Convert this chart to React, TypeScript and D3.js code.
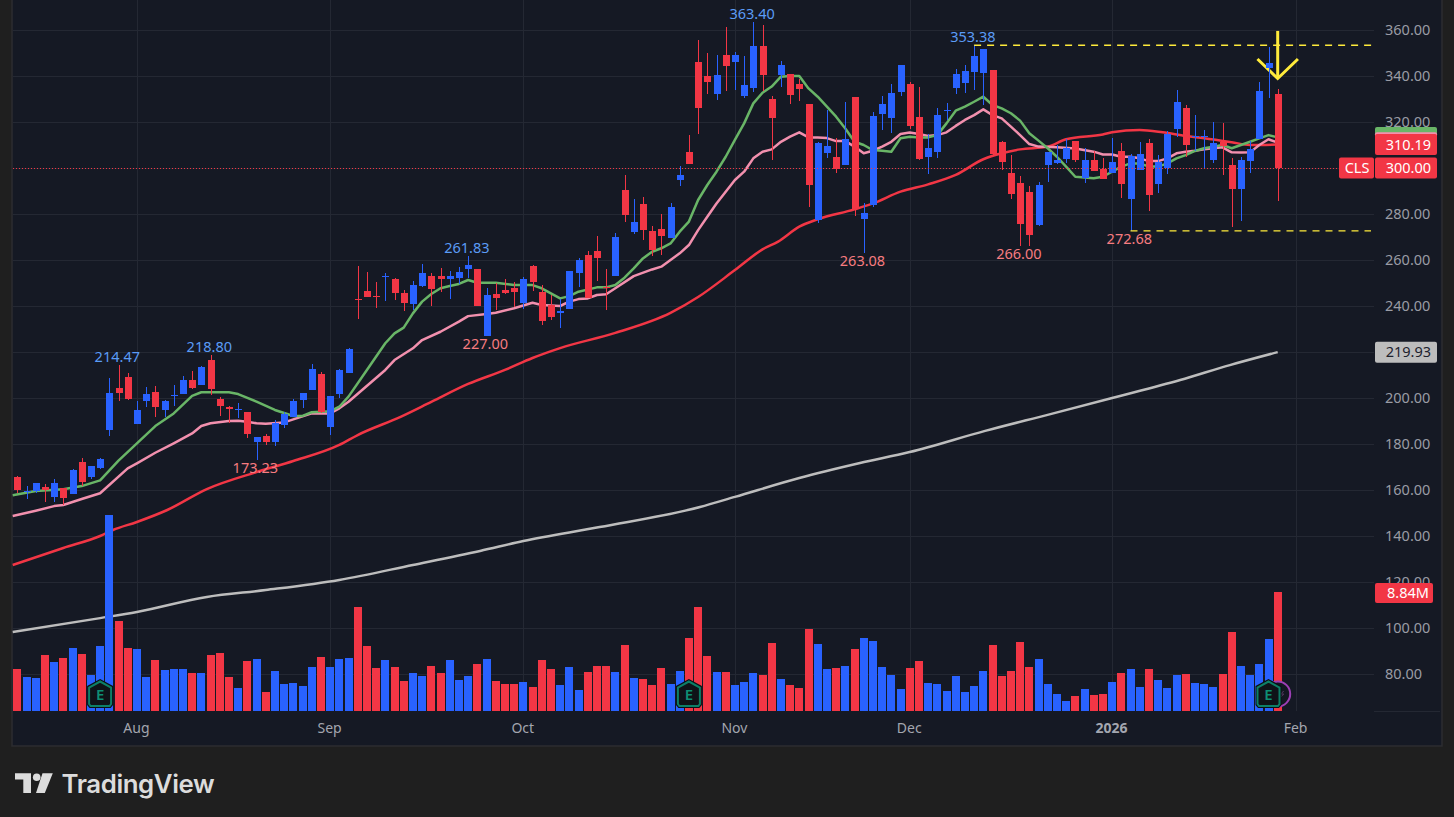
import React, { useRef, useEffect } from "react";
import * as d3 from "d3";

const opens = [165.7,159.3,159.6,161.3,157.1,160.9,158.4,172.2,165.7,169.7,186.2,204.4,209.1,188.9,198.7,202.6,194.8,200.9,201.7,207.8,205.7,216.5,199.6,196.1,194.9,193.9,180.9,183.5,180.9,188.3,191.7,199.1,203.5,210.4,187.4,201.7,210.9,
  243.0,246.5,244.2,252.8,251.7,245.6,240.9,248.7,253.0,253.0,251.7,252.2,256.1,256.1,227.0,245.2,246.9,247.8,241.3,257.4,246.1,240.4,237.1,238.7,254.3,262.2,263.9,248.3,253.0,290.4,272.2,284.3,272.6,273.5,269.6,
  294.8,306.9,346.1,340.0,332.2,349.1,346.1,331.3,334.8,353.0,330.0,340.4,340.9,336.5,327.8,277.4,306.5,304.8,301.3,330.9,277.8,283.9,323.5,321.7,333.0,336.5,322.2,304.8,306.9,324.6,334.8,336.9,341.7,341.3,342.6,
  311.3,297.8,293.5,289.6,275.2,301.3,302.2,303.9,311.7,295.7,303.5,299.6,297.8,307.4,286.5,299.1,310.9,293.0,300.0,316.9,326.1,313.5,313.5,303.5,311.3,301.3,290.9,303.0,312.6,343.5,332.2];
const highs = [166.1,161.9,162.9,162.6,164.6,160.9,169.0,173.8,170.4,173.8,208.6,214.47,210.7,198.7,204.8,205.2,199.1,205.7,209.6,211.7,213.9,218.8,200.4,196.5,197.8,193.9,183.0,184.4,190.4,193.9,199.6,202.2,214.8,211.3,200.9,212.6,221.7,
  257.4,254.8,250.4,254.3,252.2,246.9,250.9,258.3,254.3,256.5,255.2,256.9,261.83,256.1,247.8,250.0,251.7,250.4,252.6,257.8,249.1,244.8,243.0,255.2,260.9,263.9,270.4,256.1,271.7,297.0,286.5,287.4,274.8,280.0,284.8,
  300.9,314.3,355.6,350.0,349.1,361.3,350.4,348.7,363.4,362.2,331.3,346.5,340.9,338.7,327.8,311.3,325.2,313.0,328.7,330.9,284.8,324.3,331.3,336.5,344.8,337.4,335.2,314.8,326.1,328.3,343.0,344.8,353.38,351.7,342.6,
  311.7,305.7,296.5,292.2,293.9,307.0,310.0,312.6,311.7,308.7,307.4,304.3,313.0,310.9,306.1,311.3,312.6,305.7,316.1,333.9,327.4,323.0,316.5,320.0,319.6,304.3,304.8,311.6,337.4,352.6,334.3];
const lows = [158.6,156.2,158.6,154.8,154.8,153.3,158.4,161.9,164.8,169.3,183.5,198.7,199.1,188.9,196.2,191.9,191.7,196.5,201.7,203.9,205.7,201.3,192.2,189.1,191.3,182.6,173.23,179.6,179.1,187.0,191.6,195.7,203.5,193.5,183.9,200.0,210.9,
  234.4,243.9,239.1,242.2,242.6,237.8,238.3,248.3,240.0,246.1,243.0,249.6,252.2,240.0,227.0,238.3,245.2,239.6,238.7,246.5,231.7,233.9,230.4,238.7,248.3,243.5,250.9,238.3,253.0,276.5,271.3,268.7,261.7,262.2,269.6,
  292.2,301.7,314.8,332.2,329.6,333.5,333.9,330.4,333.0,333.5,303.5,335.2,327.8,329.1,283.0,276.1,304.3,297.8,301.3,279.1,263.08,283.0,316.5,315.2,331.3,317.0,303.5,297.4,304.3,320.9,332.2,332.6,333.9,327.4,305.2,
  299.1,286.5,266.0,266.1,274.8,293.9,301.7,302.2,302.6,293.5,298.7,295.2,297.8,287.0,272.68,299.1,281.3,289.1,297.4,313.5,304.8,307.4,300.0,302.2,297.0,274.35,277.0,297.8,312.6,330.4,285.65];
const closes = [160.0,159.6,162.9,159.9,162.9,156.7,168.7,163.5,170.4,173.3,202.0,202.2,199.6,194.8,201.7,196.1,198.7,201.2,207.8,204.3,213.5,203.9,196.5,195.4,195.2,184.4,183.0,180.9,189.1,193.1,198.7,202.2,212.6,193.9,200.9,212.2,221.3,
  242.7,243.9,243.9,253.0,245.6,241.3,249.1,254.3,247.4,251.7,253.0,254.8,257.8,240.0,244.8,243.5,245.5,246.1,251.7,250.4,233.5,235.2,237.7,255.2,260.0,243.5,260.9,248.0,270.0,279.6,276.5,273.0,264.3,270.4,283.0,
  297.0,301.7,326.1,337.4,340.4,344.3,349.1,336.1,353.0,340.4,321.7,344.8,331.7,334.3,292.6,310.9,309.6,299.6,312.6,282.2,280.4,322.6,327.8,332.6,344.8,318.3,303.9,308.7,323.0,325.2,340.9,342.2,348.7,351.7,306.1,
  302.6,288.7,275.7,270.9,292.6,307.0,303.5,308.7,303.5,303.5,298.7,295.2,302.6,293.0,305.2,306.1,288.3,302.6,314.8,328.7,310.0,313.8,313.8,310.9,309.6,290.9,303.5,308.3,333.5,345.7,300.0];
const volumes = [3.12,2.53,2.45,4.16,3.64,3.94,4.68,4.23,2.67,4.83,14.56,6.69,4.68,4.61,2.53,3.79,3.05,3.12,3.12,2.82,2.82,4.16,4.31,2.53,1.71,3.71,3.86,1.41,2.97,2.01,2.08,1.86,3.27,4.01,3.27,3.86,3.94,7.73,4.83,3.19,3.79,3.27,2.23,2.82,2.60,3.34,2.82,3.79,2.30,2.60,3.49,
  3.86,2.23,2.01,2.01,2.15,1.78,3.79,3.12,1.93,3.27,1.56,2.90,3.34,3.34,2.90,4.90,2.45,2.38,1.93,3.19,2.01,2.97,5.42,7.73,4.09,2.90,2.90,1.93,2.15,2.82,2.67,5.05,2.38,1.93,1.71,6.09,4.98,3.12,3.19,3.34,4.61,5.42,5.20,3.27,2.67,1.63,3.19,3.71,2.08,2.01,1.49,
  2.60,1.41,1.86,2.97,4.90,2.60,2.97,5.13,3.27,3.86,2.01,1.26,0.74,1.11,1.63,1.19,1.26,2.15,2.82,3.12,1.78,3.12,2.30,1.71,2.67,2.75,2.08,2.01,1.78,2.75,5.87,3.34,2.67,3.49,5.35,8.84];

// [bar index, value]
const greenLine: [number, number][] = [[-0.5,157.7],[2,159.6],[5,160.3],[7,161.7],[9,164.2],[11,172.8],[13,180.3],[15,187.8],[17,193.3],[19,200.9],[20,202.5],[23,202.5],[24,201.7],[26,198.4],[28,194.8],[30,192.2],[31,192.2],[32,193.8],[34,194.2],[35,196.2],[36,200.6],[38,212.2],[40,223.8],[41,228.1],[42,230.6],[43,236.8],[44,241.9],[45,245.2],[46,247.7],[47,248.7],[48,249.6],[49,251.3],[50,250.1],[52,250.1],[54,249.1],[56,249.1],[57,247.7],[59,243.3],[60,244.3],[61,246.2],[63,248.1],[64,248.1],[65,249.1],[66,252.3],[67,256.4],[68,260.7],[69,263.6],[70,265.1],[71,267.2],[72,272.3],[73,276.7],[74,286.1],[75,292.6],[76,298.4],[77,304.9],[78,312.2],[79,319.4],[80,328.1],[81,332.7],[82,335.4],[83,339.7],[84,340.0],[85,340.0],[86,334.6],[87,331.0],[88,326.7],[89,322.3],[90,317.2],[91,311.4],[92,310.0],[93,307.8],[94,307.5],[95,307.1],[96,312.9],[97,313.6],[98,313.3],[99,313.3],[100,314.3],[101,319.4],[102,324.9],[103,326.7],[104,328.8],[105,331.0],[106,327.4],[107,325.9],[108,323.8],[109,320.6],[110,315.1],[111,311.9],[112,308.6],[113,304.9],[114,300.6],[115,296.2],[116,295.9],[117,295.5],[118,296.2],[119,298.4],[120,300.6],[121,302.0],[122,302.0],[123,300.6],[124,300.6],[125,302.0],[126,304.2],[127,305.6],[128,307.4],[129,308.6],[130,309.3],[131,310.0],[132,308.6],[133,310.0],[134,311.4],[135,312.9],[136,314.3],[137,313.3]];
const pinkLine: [number, number][] = [[-0.5,148.7],[2,151.0],[4,153.0],[5,153.5],[7,156.1],[9,158.6],[12,169.4],[13,171.6],[15,176.2],[17,180.3],[19,184.6],[20,187.8],[21,189.0],[23,190.0],[24,190.1],[25,189.7],[26,189.0],[27,188.8],[29,189.4],[30,190.7],[32,193.3],[34,193.3],[35,195.5],[36,198.4],[40,212.2],[41,216.5],[43,221.6],[44,225.2],[46,228.8],[48,233.2],[49,235.6],[51,236.5],[52,237.1],[54,239.0],[56,241.4],[57,240.4],[59,240.0],[60,241.9],[61,243.0],[62,243.3],[63,244.8],[64,245.1],[65,247.7],[67,253.0],[69,255.9],[70,257.1],[71,260.0],[72,262.9],[73,266.5],[74,273.0],[75,278.8],[76,284.6],[77,289.7],[78,294.8],[79,298.4],[80,304.2],[81,307.1],[82,308.1],[83,311.4],[84,313.6],[85,315.5],[86,313.3],[87,313.3],[88,313.0],[89,311.7],[90,311.7],[91,309.3],[92,306.4],[93,307.5],[94,309.3],[95,311.4],[96,314.8],[97,315.4],[98,314.8],[99,313.9],[100,314.3],[101,315.5],[102,318.3],[103,320.9],[104,323.0],[105,325.5],[106,323.0],[107,321.6],[108,318.0],[109,314.3],[110,310.4],[111,309.3],[113,309.0],[115,308.5],[117,307.1],[118,305.9],[119,305.9],[120,304.9],[121,304.9],[122,304.2],[123,303.0],[124,303.0],[125,304.2],[126,306.4],[127,307.1],[128,307.5],[129,308.1],[130,308.6],[131,309.0],[132,306.8],[133,306.7],[134,306.8],[135,310.0],[136,312.5],[137,311.0]];
const redLine: [number, number][] = [[-0.5,127.4],[5,134.8],[9,140.0],[10.4,142.6],[13,146.1],[16.3,151.3],[20.6,160.4],[26,167.8],[30,172.6],[35,179.6],[37,183.9],[41.6,191.7],[45,198.3],[49,206.1],[53,212.2],[56,217.4],[59,221.7],[65,228.3],[71,237.0],[74,243.9],[78,255.6],[81,264.6],[82.7,268.0],[85,274.5],[87,277.7],[91,282.0],[93,284.6],[96,289.7],[99,292.9],[102,297.0],[105,303.8],[107,306.4],[109,308.1],[112,309.3],[114,312.5],[118,314.6],[119,315.5],[122,316.5],[124.5,315.5],[127,313.9],[129,312.9],[132,311.2],[134,310.0],[137,310.19]];
const whiteLine: [number, number][] = [[-0.5,98.3],[9,104.3],[13,107.0],[20.6,113.5],[27,116.5],[35,120.9],[43,127.4],[50.3,133.5],[55,137.8],[63.3,143.9],[74.2,152.6],[78,157.0],[85,165.2],[91.6,171.7],[97,176.5],[105.2,185.7],[112.3,193.0],[119,200.0],[126.4,207.8],[131.8,214.3],[137,219.93]];

const priceTicks = [360,340,320,300,280,260,240,220,200,180,160,140,120,100,80];
const monthTicks: [number, string][] = [[13,"Aug"],[34,"Sep"],[55,"Oct"],[78,"Nov"],[97,"Dec"],[119,"2026"],[139,"Feb"]];
const highLabels: [number, number][] = [[11,214.47],[21,218.8],[49,261.83],[80,363.4],[104,353.38]];
const lowLabels: [number, number][] = [[26,173.23],[51,227.0],[92,263.08],[109,266.0],[121,272.68]];
const earningsBars = [9,73,136];

const BLUE = "#2962ff";
const RED = "#f23645";
const GREEN_MA = "#69b567";
const PINK_MA = "#f290ae";
const WHITE_MA = "#bdbdbd";
const YELLOW = "#ffeb3b";
const FONT = "'Noto Sans', sans-serif";

const App: React.FC = () => {
  const svgRef = useRef<SVGSVGElement>(null);

  useEffect(() => {
    if (!svgRef.current) return;
    const svg = d3.select(svgRef.current);
    svg.selectAll("*").remove();

    const x = d3.scaleLinear().domain([0, 137]).range([17.3, 1277.7]);
    const y = d3.scaleLinear().domain([80, 360]).range([674, 30]);
    const yVol = d3.scaleLinear().domain([0, 8.84]).range([711, 592]);

    // page and pane
    svg.append("rect").attr("width", 1454).attr("height", 817).attr("fill", "#1f1f1f");
    svg.append("rect").attr("x", 12).attr("y", -2).attr("width", 1430).attr("height", 748)
      .attr("fill", "#151924").attr("stroke", "#2c2d30").attr("stroke-width", 1.5);

    // grid
    const grid = svg.append("g").attr("stroke", "#242833").attr("stroke-width", 1).attr("shape-rendering", "crispEdges");
    priceTicks.forEach((p) => {
      grid.append("line").attr("x1", 13).attr("x2", 1374).attr("y1", Math.round(y(p))).attr("y2", Math.round(y(p)));
    });
    monthTicks.forEach(([i]) => {
      grid.append("line").attr("x1", Math.round(x(i))).attr("x2", Math.round(x(i))).attr("y1", 0).attr("y2", 711);
    });
    grid.append("line").attr("x1", 1374).attr("x2", 1440).attr("y1", 711).attr("y2", 711);

    // moving averages sit under the candles
    const smooth = d3.line<[number, number]>().x((d) => x(d[0])).y((d) => y(d[1])).curve(d3.curveMonotoneX);
    const straight = d3.line<[number, number]>().x((d) => x(d[0])).y((d) => y(d[1]));
    svg.append("path").attr("d", smooth(whiteLine)).attr("fill", "none").attr("stroke", WHITE_MA).attr("stroke-width", 2.5);
    svg.append("path").attr("d", smooth(redLine)).attr("fill", "none").attr("stroke", RED).attr("stroke-width", 2.5);
    svg.append("path").attr("d", straight(pinkLine)).attr("fill", "none").attr("stroke", PINK_MA).attr("stroke-width", 2.5).attr("stroke-linejoin", "round");
    svg.append("path").attr("d", straight(greenLine)).attr("fill", "none").attr("stroke", GREEN_MA).attr("stroke-width", 2.5).attr("stroke-linejoin", "round");

    // volume
    svg.append("g").attr("shape-rendering", "crispEdges").selectAll("rect").data(volumes).join("rect")
      .attr("x", (_, i) => Math.round(x(i)) - 4)
      .attr("width", 8)
      .attr("y", (d) => yVol(d))
      .attr("height", (d) => 711 - yVol(d))
      .attr("fill", (_, i) => (closes[i] >= opens[i] ? BLUE : RED));

    // purple event circle behind the last earnings mark
    svg.append("circle").attr("cx", x(137)).attr("cy", 694).attr("r", 12.5)
      .attr("fill", "#131722").attr("stroke", "#9c3fb5").attr("stroke-width", 2);
    svg.append("path").attr("d", `M${x(137) + 6},691 l-3,3 h3 l-3,3`).attr("fill", "none").attr("stroke", "#5a3a66").attr("stroke-width", 1);

    // earnings marks
    const marks = svg.append("g").selectAll("g").data(earningsBars).join("g")
      .attr("transform", (d) => `translate(${x(d)},694)`);
    marks.append("path").attr("d", "M0,-15 L13,-8 L13,11 L10.5,14 L-10.5,14 L-13,11 L-13,-8 Z")
      .attr("fill", "#0c0f14");
    marks.append("path").attr("d", "M0,-12.5 L11,-6.5 L11,10 L9.5,12 L-9.5,12 L-11,10 L-11,-6.5 Z")
      .attr("fill", "#0f1318").attr("stroke", "#0d7f67").attr("stroke-width", 2);
    marks.append("text").text("E").attr("text-anchor", "middle").attr("y", 6).attr("fill", "#0e8f74")
      .attr("font-family", FONT).attr("font-size", 15).attr("font-weight", 600);

    // arrow goes under the candles
    const arrowGroup = svg.append("g").attr("fill", "none").attr("stroke", YELLOW).attr("stroke-width", 3);
    arrowGroup.append("path").attr("d", straight([[137, 359.6], [137, 339.5]]));
    arrowGroup.append("path").attr("d", straight([[134.8, 347.4], [137, 338.9], [139.2, 347.4]]));

    // candles
    const candles = svg.append("g").attr("shape-rendering", "crispEdges");
    opens.forEach((o, i) => {
      const c = closes[i];
      const col = c >= o ? BLUE : RED;
      const cx = Math.round(x(i));
      candles.append("rect").attr("x", cx).attr("width", 1).attr("y", y(highs[i])).attr("height", y(lows[i]) - y(highs[i])).attr("fill", col);
      const top = y(Math.max(o, c));
      const h = Math.max(1, y(Math.min(o, c)) - top);
      candles.append("rect").attr("x", cx - 3).attr("width", 7).attr("y", top).attr("height", h).attr("fill", col);
    });

    // price line, support and resistance
    svg.append("line").attr("x1", 13).attr("x2", 1339).attr("y1", y(300) + 0.5).attr("y2", y(300) + 0.5)
      .attr("stroke", RED).attr("stroke-width", 1).attr("stroke-dasharray", "1 2").attr("shape-rendering", "crispEdges");
    svg.append("line").attr("x1", x(104)).attr("x2", 1373).attr("y1", y(353.38)).attr("y2", y(353.38))
      .attr("stroke", YELLOW).attr("stroke-width", 1.3).attr("stroke-dasharray", "7 6");
    svg.append("line").attr("x1", x(121)).attr("x2", 1371).attr("y1", y(272.68)).attr("y2", y(272.68))
      .attr("stroke", YELLOW).attr("stroke-width", 1.3).attr("stroke-dasharray", "7 6");

    // high / low labels
    const peak = svg.append("g").attr("font-family", FONT).attr("font-size", 14.5).attr("text-anchor", "middle");
    highLabels.forEach(([i, v]) => {
      peak.append("text").text(d3.format(".2f")(v)).attr("x", x(i) - 1.2).attr("y", y(v) - 8).attr("dy", "0.35em").attr("fill", "#5b9cf6");
    });
    lowLabels.forEach(([i, v]) => {
      peak.append("text").text(d3.format(".2f")(v)).attr("x", x(i) - 1.2).attr("y", y(v) + 8).attr("dy", "0.35em").attr("fill", "#f77c80");
    });

    // axes
    const yAxis = svg.append("g").attr("transform", "translate(1374,0)")
      .call(d3.axisRight(y).tickValues(priceTicks).tickSize(0).tickPadding(11).tickFormat(d3.format(".2f") as any));
    yAxis.select(".domain").remove();
    yAxis.selectAll("text").attr("fill", "#9a9ca5").attr("font-family", FONT).attr("font-size", 14.5);

    const xAxis = svg.append("g").attr("transform", "translate(-1,711)")
      .call(d3.axisBottom(x).tickValues(monthTicks.map((d) => d[0])).tickSize(0).tickPadding(12)
        .tickFormat((d) => monthTicks.find((m) => m[0] === d)![1]));
    xAxis.select(".domain").remove();
    xAxis.selectAll("text").attr("fill", "#a3a6af").attr("font-family", FONT).attr("font-size", 14)
      .attr("font-weight", (d) => (d === 119 ? 700 : 400));

    // price tags on the axis
    const tag = (yPos: number, fill: string, text: string, textFill: string) => {
      svg.append("rect").attr("x", 1375).attr("y", yPos - 10.5).attr("width", 62).attr("height", 21).attr("rx", 2).attr("fill", fill);
      if (text) {
        svg.append("text").text(text).attr("x", 1431).attr("y", yPos).attr("dy", "0.35em").attr("text-anchor", "end")
          .attr("fill", textFill).attr("font-family", FONT).attr("font-size", 14.5);
      }
    };
    tag(y(313.3), GREEN_MA, "", "");
    tag(y(311), PINK_MA, "", "");
    tag(y(310.19), RED, "310.19", "#ffffff");
    tag(y(300), RED, "300.00", "#ffffff");
    tag(y(219.93), "#bdbdbd", "219.93", "#1e222d");
    svg.append("rect").attr("x", 1339).attr("y", y(300) - 10.5).attr("width", 35).attr("height", 21).attr("rx", 2).attr("fill", RED);
    svg.append("text").text("CLS").attr("x", 1357).attr("y", y(300)).attr("dy", "0.35em").attr("text-anchor", "middle")
      .attr("fill", "#ffffff").attr("font-family", FONT).attr("font-size", 14.5);
    svg.append("rect").attr("x", 1375).attr("y", 583).attr("width", 58).attr("height", 20).attr("rx", 2).attr("fill", RED);
    svg.append("text").text("8.84M").attr("x", 1429).attr("y", 593).attr("dy", "0.35em").attr("text-anchor", "end")
      .attr("fill", "#ffffff").attr("font-family", FONT).attr("font-size", 14.5);

    // logo
    const logo = svg.append("g").attr("fill", "#dcdcdc");
    logo.append("path").attr("d", "M15,773.3 L31,773.3 L31,793 L23.3,793 L23.3,779.5 L15,779.5 Z");
    logo.append("circle").attr("cx", 36.7).attr("cy", 777.3).attr("r", 3.8);
    logo.append("path").attr("d", "M42.5,773.3 L52.8,773.3 L44.8,793 L36,793 Z");
    logo.append("text").text("TradingView").attr("x", 61.5).attr("y", 793).attr("font-family", "Inter, sans-serif")
      .attr("font-size", 25.8).attr("font-weight", 600).attr("letter-spacing", -0.4);

    return () => {
      svg.selectAll("*").remove();
    };
  }, []);

  return (
    <div style={{ position: "fixed", left: 0, top: 0 }}>
      <svg ref={svgRef} width={1454} height={817} style={{ display: "block" }}></svg>
    </div>
  );
};

export default App;
